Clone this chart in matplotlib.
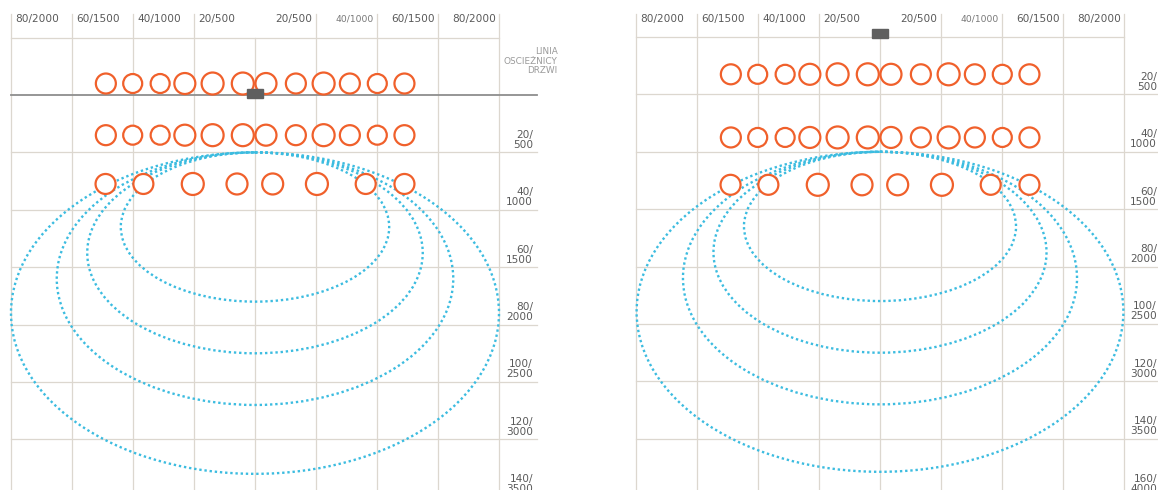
import matplotlib.pyplot as plt
from matplotlib.patches import Ellipse, Rectangle

# --- grid and labels (cm / mm) ---
gridX = [-80, -60, -40, -20, 0, 20, 40, 60, 80]
headerLeftX = [-80, -60, -40, -20]
headerLeftLabels = ["80/2000", "60/1500", "40/1000", "20/500"]
headerRightX = [20, 40, 60, 80]
headerRightLabels = ["20/500", "40/1000", "60/1500", "80/2000"]

leftRowLines = [20, 40, 60, 80, 100, 120, 140]
leftRowLabels = ["20/\n500", "40/\n1000", "60/\n1500", "80/\n2000",
                 "100/\n2500", "120/\n3000", "140/\n3500"]
rightRowLines = [20, 40, 60, 80, 100, 120, 140, 160]
rightRowLabels = ["20/\n500", "40/\n1000", "60/\n1500", "80/\n2000",
                  "100/\n2500", "120/\n3000", "140/\n3500", "160/\n4000"]
doorLabel = "LINIA\nOSCIEŻNICY\nDRZWI"

# --- detection spots (x in cm, diameter in px) ---
denseX = [-48.9, -40.1, -31.1, -23.0, -13.9, -4.0, 3.6, 13.4, 22.5, 31.1, 40.1, 49.0]
denseSize = [22, 21, 21, 23, 24, 24, 23, 22, 24, 22, 21, 22]
sparseX = [-49.0, -36.6, -20.4, -5.9, 5.8, 20.3, 36.3, 49.0]
sparseSize = [22, 22, 24, 23, 23, 24, 22, 22]

leftRowY = [-4, 14, 31]
rightRowY = [13, 35, 51.5]

# --- detection zones (dotted ellipses) ---
leftZoneTop = 20
leftZoneBottom = [72, 90, 108, 132]
leftZoneHalf = [44, 55, 65, 80]
rightZoneTop = 40
rightZoneBottom = [92, 110, 128, 151.5]
rightZoneHalf = [44.6, 54.6, 64.6, 79.8]

FIG_W, FIG_H = 1158, 490
PX_X, PX_Y = 3.05, 2.87  # pixels per cm

gridColor = "#dcd7cf"
textColor = "#5a5a5a"
orange = "#f0602b"
cyan = "#3cbce0"

fig = plt.figure(figsize=(FIG_W / 100, FIG_H / 100), dpi=100)


def addPanel(left, width, originX, originY):
    ax = fig.add_axes([left / FIG_W, 0, width / FIG_W, 1])
    ax.set_xlim((left - originX) / PX_X, (left + width - originX) / PX_X)
    ax.set_ylim((FIG_H - originY) / PX_Y, -originY / PX_Y)
    ax.axis("off")
    return ax


def drawGrid(ax, vTop, headerY, rowLines, rowLabels, lineEnd, labelX):
    bottom = ax.get_ylim()[0]
    for x in gridX:
        top = headerY if x == 0 else vTop
        ax.plot([x, x], [top, bottom], color=gridColor, lw=0.9, zorder=1)
    ax.plot([-80, 80], [headerY, headerY], color=gridColor, lw=0.9, zorder=1)
    for y, lab in zip(rowLines, rowLabels):
        ax.plot([-80, lineEnd], [y, y], color=gridColor, lw=0.9, zorder=1)
        ax.text(labelX, y - 0.9, lab, ha="right", va="bottom", fontsize=7.6,
                color=textColor, linespacing=1.0, clip_on=False)
    # header distances
    textY = headerY - 6.4
    for x, lab in zip(headerLeftX, headerLeftLabels):
        ax.text(x + 1.3, textY, lab, ha="left", va="center", fontsize=7.6,
                color=textColor)
    for x, lab in zip(headerRightX, headerRightLabels):
        small = lab == "40/1000"
        ax.text(x - 1.1, textY, lab, ha="right", va="center",
                fontsize=6.6 if small else 7.6,
                color="#777777" if small else textColor)


def drawSpots(ax, rowY):
    for i, y in enumerate(rowY):
        xs = sparseX if i == 2 else denseX
        ds = sparseSize if i == 2 else denseSize
        ax.scatter(xs, [y] * len(xs), s=[((d - 2) * 0.72) ** 2 for d in ds],
                   facecolors="white", edgecolors=orange, linewidths=1.6,
                   zorder=4)


def drawZones(ax, top, bottoms, halves):
    for b, h in zip(bottoms, halves):
        ax.add_patch(Ellipse((0, (top + b) / 2), 2 * h, b - top, fill=False,
                             edgecolor=cyan, lw=1.7, linestyle=(0, (1.0, 1.2)),
                             zorder=3))


# left panel: sensor on the door frame line
axL = addPanel(0, 580, 255, 95)
drawGrid(axL, -28.2, -20, leftRowLines, leftRowLabels, 92.5, 91.1)
axL.plot([-80, 92.5], [0, 0], color="#8e8e8e", lw=1.3, zorder=2)
axL.text(99.3, -7, doorLabel, ha="right", va="bottom", fontsize=6.4,
         color="#9a9a9a", linespacing=1.05,
         family=["Liberation Sans Narrow", "DejaVu Sans"])
drawZones(axL, leftZoneTop, leftZoneBottom, leftZoneHalf)
drawSpots(axL, leftRowY)
axL.add_patch(Rectangle((-2.7, -2.0), 5.4, 3.2, color="#5f5f5f", zorder=5))

# right panel: sensor above the top line
axR = addPanel(580, 578, 880, 37)
drawGrid(axR, -8, 0, rightRowLines, rightRowLabels, 91.0, 90.8)
drawZones(axR, rightZoneTop, rightZoneBottom, rightZoneHalf)
drawSpots(axR, rightRowY)
axR.add_patch(Rectangle((-2.7, -2.9), 5.4, 3.1, color="#5f5f5f", zorder=5))

fig.savefig("out.png", dpi=100)
